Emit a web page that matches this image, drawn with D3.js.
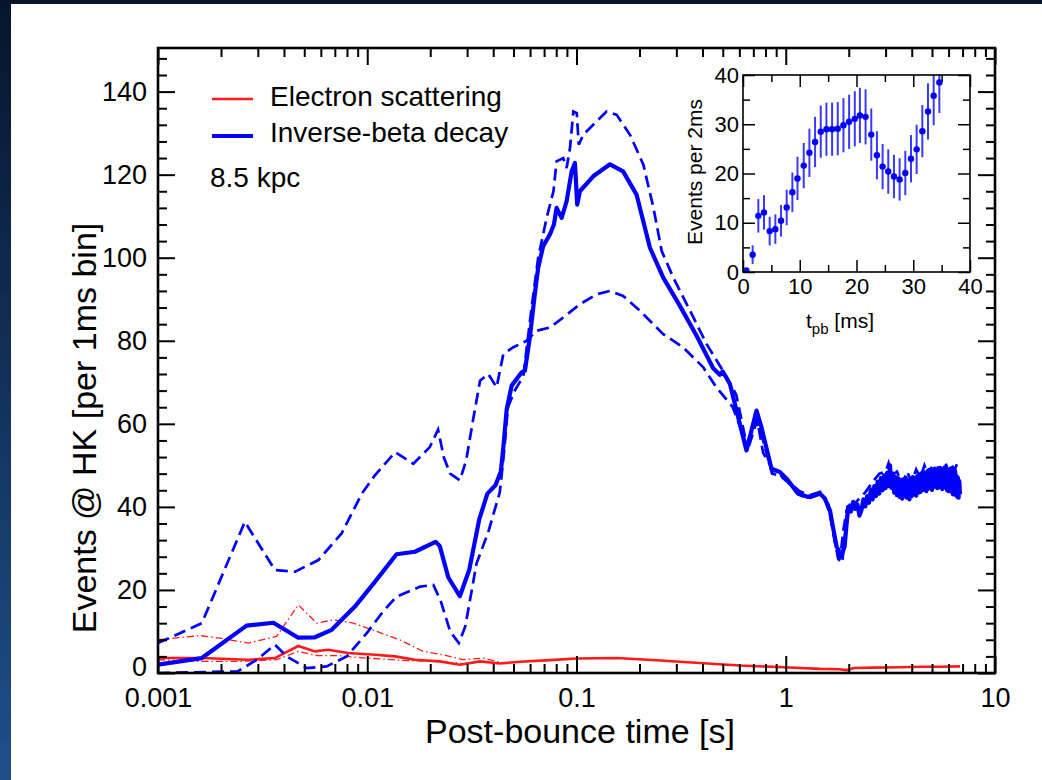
<!DOCTYPE html>
<html>
<head>
<meta charset="utf-8">
<script src="https://cdn.jsdelivr.net/npm/d3@7"></script>
<style>
body { margin: 0; background: #0b2148; }
svg { display: block; font-family: "Liberation Sans", Arial, sans-serif; }
</style>
</head>
<body>
<svg id="chart" width="1042" height="780"></svg>
<script>
// ---- data ----
// inverse-beta decay, solid (reference model)
const ibdT = [0.001,0.00162,0.00265,0.00356,0.00468,0.00562,0.00676,0.00873,0.0109,0.0138,0.0169,0.0212,0.0222,0.0244,0.0277,0.0307,0.0343,0.0375,0.041,0.0435,0.0447,0.0464,0.049,0.0547,0.0567,0.0599,0.0633,0.0656,0.0693,0.0746,0.078,0.0803,0.0849,0.0897,0.0948,0.0983,0.1008,0.1038,0.1202,0.1445,0.167,0.1936,0.2244,0.2597,0.312,0.375,0.45,0.484,0.5,0.541,0.649,0.725,0.765,0.855,0.937,1.009,1.146,1.279,1.455,1.538,1.625,1.75,1.849,1.91,1.986,
  2.05,2.1,2.15,2.2,2.25,2.3,2.35,2.4,2.45];
const ibdV = [2.0,3.6,11.4,12.1,8.5,8.6,10.4,16.0,22.0,28.6,29.2,31.6,30.6,23.0,18.5,24.8,37.0,43.2,45.2,48.5,54.4,63.5,69.2,72.4,72.8,81,91.5,97.6,102.8,105.6,108,112,109.6,113.6,120.8,122.8,112.8,116,119.6,122.5,120.8,115.2,102.4,95.2,88.4,81.2,73.4,71.8,72.6,69.6,53.6,63.2,59.2,49.2,48.4,46.8,43.2,42.4,43.2,42,39.2,30.4,28.4,30.4,40,
  38.9,41.2,39.5,40.6,37.9,39.2,41.8,40.1,42.6];
// late, noisy part of the solid curve
const ibdLateT = [2.5,2.55,2.6,2.65,2.7,2.75,2.8,2.85,2.9,2.95,3.0,3.05,3.1,3.15,3.2,3.25,3.3,3.35,3.4,3.45,3.5,3.55,3.6,3.65,3.7,3.75,3.8,3.85,3.9,3.95,
  4.0,4.05,4.1,4.15,4.2,4.25,4.3,4.35,4.4,4.45,4.5,4.55,4.6,4.65,4.7,4.75,4.8,4.85,4.9,4.95,5.0,5.05,5.1,5.15,5.2,5.25,5.3,5.35,5.4,5.45,
  5.5,5.55,5.6,5.65,5.7,5.75,5.8,5.85,5.9,5.95,6.0,6.05,6.1,6.15,6.2,6.25,6.3,6.35,6.4,6.45,6.5,6.55,6.6,6.65,6.7,6.75,6.8];
const ibdLateV = [41.0,44.2,41.8,45.0,42.6,46.1,43.2,47.0,44.0,47.6,44.5,48.2,45.0,50.0,44.6,48.0,43.4,47.2,42.8,46.9,42.4,46.5,42.0,46.6,42.5,47.0,42.2,46.4,41.8,46.0,
  42.6,47.2,43.0,46.8,42.7,47.4,43.4,47.8,43.6,48.1,44.0,48.4,44.2,48.0,43.8,48.6,44.4,48.9,44.6,48.5,44.1,48.7,44.8,49.2,45.0,48.8,44.5,49.0,45.2,49.4,
  44.7,48.6,44.3,49.1,45.0,49.5,44.6,48.8,44.0,48.4,43.8,48.9,44.2,49.3,43.6,48.2,43.0,47.8,43.4,48.6,42.8,47.4,42.4,47.0,42.2,46.2,43.0];

// inverse-beta decay, dashed variant A (late-rising, peak ~136)
const ibdAT = [0.001,0.0024,0.00297,0.00362,0.00412,0.00513,0.0064,0.00798,0.00995,0.0119,0.0138,0.0179,0.0207,0.0224,0.0249,0.0274,0.0294,0.0333,0.0379,0.043,0.0453,0.047,0.0507,0.0557,0.061,0.0656,0.072,0.0776,0.0803,0.0864,0.0897,0.0931,0.0966,0.1003,0.1025,0.1077,0.1202,0.1392,0.1557,0.1802,0.2087,0.2332,0.2554,0.2903,0.349,0.4188,0.5233,0.58,0.649,0.73,0.78,0.87,0.95,1.03,1.16,1.3,1.46,1.6,1.7,1.78,1.86,1.92,
  2.0,2.2,2.4,2.6,2.8,3.0,3.1,3.2,3.4,3.6,3.8,4.0,4.2,4.4,4.6,4.8,5.0,5.2,5.4,5.6,5.8,6.0,6.2,6.4,6.6,6.8];
const ibdAV = [0,0.4,3.2,6.8,4,1.2,1.6,4,9.6,14.8,18.4,20.8,21.2,17.5,10,7.2,11.2,26.4,34,43.5,54.4,64,68,71.5,88,100,109.6,116,123.2,124,121.6,126.4,135.2,134.8,127.2,129.6,132,135.2,134.4,129.6,122.4,112,101.6,95.2,87.2,79.2,71.2,67,55.2,61,53,48.8,47.5,46.2,43.8,42.8,43.6,40.5,33,27.5,26.5,33,
  39.5,41.5,43.5,46,48,48.5,50.5,47.5,48.5,45.5,48.5,46,49,47,50,47.5,49.8,47.8,50.4,48.2,50.6,48.4,50.2,48.8,50.5,49.6];

// inverse-beta decay, dashed variant B (early-rising, peak ~92)
const ibdBT = [0.001,0.00162,0.0026,0.00362,0.00452,0.00584,0.00754,0.00942,0.01088,0.0136,0.0166,0.0199,0.0218,0.0232,0.0249,0.0277,0.0297,0.032,0.0346,0.0379,0.0415,0.0447,0.0497,0.0578,0.0645,0.0746,0.0864,0.1038,0.1248,0.1445,0.167,0.2012,0.2597,0.3238,0.4036,0.4659,0.5584,0.6225,0.657,0.725,0.77,0.86,0.94,1.02,1.15,1.28,1.45,1.55,1.63,1.74,1.82,1.88,1.95,
  2.02,2.3,2.6,2.9,3.2,3.5,3.8,4.1,4.4,4.7,5.0,5.3,5.6,5.9,6.2,6.5,6.8];
const ibdBV = [7.2,12,36.4,24.8,24.4,27.2,33.6,43.2,47.6,53.2,50.4,54.4,58.6,52,48,46.4,51.2,60.8,70.4,72,68.8,76.8,78.4,80,82.4,83.2,85.6,88.8,91.2,92,90.8,87.2,81.6,78.4,73.6,68.8,64,57.6,53.6,60.5,57,48,47.5,46,43,42,43,41.5,38,30,27.5,34,39,
  40.5,39.5,44,46,48.5,44,46.5,44,46.5,45.5,47.5,45.5,47.5,45.5,47,44.5,43.5];

// electron scattering, solid
const esT = [0.001,0.00162,0.0027,0.00362,0.00468,0.00562,0.0065,0.0081,0.0109,0.0136,0.0169,0.0222,0.0277,0.0346,0.043,0.0537,0.0746,0.1,0.1557,0.2518,0.388,0.6,0.974,1.455,1.8,1.96,2.12,2.6,3.5,4.5,5.5,6.8];
const esV = [3.6,3.6,3.2,3.6,6.5,5.2,5.6,4.8,4.4,4.0,3.2,2.8,2.0,2.8,2.3,2.7,3.1,3.5,3.6,3.0,2.4,1.8,1.4,1.0,0.9,0.7,1.2,1.3,1.4,1.5,1.5,1.6];

// electron scattering, dash-dot variants
const esAT = [0.001,0.00159,0.00198,0.0027,0.00369,0.00468,0.00574,0.00688,0.0086,0.0111,0.0143,0.0185,0.023,0.0286,0.0358,0.043];
const esAV = [8,9,8.4,7.2,8.8,16.4,12,12.8,12,10,8,5.2,4.4,3.2,3.6,2.6];
const esBT = [0.001,0.00159,0.0025,0.00369,0.00468,0.00574,0.0072,0.0098,0.0155,0.0207,0.03];
const esBV = [3.2,2.8,2.8,3.2,5.2,4.2,4.2,3.6,3.0,2.8,2.2];

// inset: events per 2 ms
const insetT = [0.6,1.7,2.7,3.7,4.7,5.7,6.7,7.7,8.7,9.6,10.7,11.7,12.7,13.7,14.7,15.7,16.7,17.7,18.7,19.7,20.6,21.6,22.6,23.6,24.6,25.6,26.6,27.6,28.6,29.6,30.6,31.6,32.6,33.6,34.6];
const insetV = [0.3,3.5,11.4,12.1,8.3,8.7,10.4,13.1,16.2,19.0,21.6,24.2,26.4,28.5,29.0,29.0,29.1,29.8,30.5,31.1,31.8,31.5,27.9,23.7,21.4,20.4,19.4,18.8,20.1,23.0,24.9,28.6,32.6,35.8,38.5];
const insetErr = [0.5,1.9,3.4,3.5,2.9,3.0,3.2,3.6,4.0,4.4,4.6,4.9,5.1,5.3,5.4,5.4,5.4,5.5,5.5,5.6,5.6,5.6,5.3,4.9,4.6,4.5,4.4,4.3,4.5,4.8,5.0,5.3,5.7,6.0,6.2];

const xMajor = [0.001, 0.01, 0.1, 1, 10];
const yMajor = [0, 20, 40, 60, 80, 100, 120, 140];
const insetTicks = [0, 10, 20, 30, 40];

const BLUE = "#0000ff", RED = "#ff1a1a";

// ---- layout ----
const svg = d3.select("#chart");
const W = 1042, H = 780;
const pL = 158, pR = 995, pT = 48, pB = 673;

const bg = svg.append("defs").append("linearGradient")
    .attr("id", "bg").attr("x1", 0).attr("y1", 0).attr("x2", 0).attr("y2", 1);
bg.append("stop").attr("offset", "0%").attr("stop-color", "#07142c");
bg.append("stop").attr("offset", "100%").attr("stop-color", "#1e4f8a");
svg.append("rect").attr("width", W).attr("height", H).attr("fill", "url(#bg)");
svg.append("rect").attr("x", 11).attr("y", 4).attr("width", W - 11).attr("height", H - 4).attr("fill", "#fff");

const x = d3.scaleLog().domain([0.001, 10]).range([pL, pR]);
const y = d3.scaleLinear().domain([0, 150.5]).range([pB, pT]);

const xMinor = x.ticks().filter(v => !xMajor.some(m => Math.abs(m - v) / m < 1e-6));
const yMinor = d3.range(0, 151, 4).filter(v => v % 20 !== 0);

function styleAxis(g) {
  g.select(".domain").remove();
  g.selectAll(".tick line").attr("stroke", "#000").attr("stroke-width", 2);
}

// clip for curves
svg.append("clipPath").attr("id", "plot")
  .append("rect").attr("x", pL).attr("y", pT).attr("width", pR - pL).attr("height", pB - pT);

const line = d3.line().x(d => x(d[0])).y(d => y(d[1]));
const curves = svg.append("g").attr("clip-path", "url(#plot)");

curves.append("path").datum(d3.zip(esBT, esBV)).attr("d", line)
  .attr("fill", "none").attr("stroke", RED).attr("stroke-width", 1.3).attr("stroke-dasharray", "7,3,1.5,3");
curves.append("path").datum(d3.zip(esAT, esAV)).attr("d", line)
  .attr("fill", "none").attr("stroke", RED).attr("stroke-width", 1.3).attr("stroke-dasharray", "7,3,1.5,3");
curves.append("path").datum(d3.zip(esT, esV)).attr("d", line)
  .attr("fill", "none").attr("stroke", RED).attr("stroke-width", 2.6);
curves.append("path").datum(d3.zip(ibdAT, ibdAV)).attr("d", line)
  .attr("fill", "none").attr("stroke", BLUE).attr("stroke-width", 2.7).attr("stroke-dasharray", "12,6");
curves.append("path").datum(d3.zip(ibdBT, ibdBV)).attr("d", line)
  .attr("fill", "none").attr("stroke", BLUE).attr("stroke-width", 2.7).attr("stroke-dasharray", "12,6");
curves.append("path").datum(d3.zip(ibdT.concat(ibdLateT), ibdV.concat(ibdLateV))).attr("d", line)
  .attr("fill", "none").attr("stroke", BLUE).attr("stroke-width", 4.2).attr("stroke-linejoin", "round");

// axes (ticks inside)
svg.append("g").attr("transform", `translate(0,${pB})`)
  .call(d3.axisBottom(x).tickValues(xMajor).tickSize(-17).tickFormat(d3.format("~g")))
  .call(styleAxis)
  .call(g => g.selectAll("text").attr("y", 15).attr("dy", "0.71em").attr("font-size", 27).attr("fill", "#000"));
svg.append("g").attr("transform", `translate(0,${pB})`)
  .call(d3.axisBottom(x).tickValues(xMinor).tickSize(-9).tickFormat("")).call(styleAxis);
svg.append("g").attr("transform", `translate(0,${pT})`)
  .call(d3.axisTop(x).tickValues(xMajor).tickSize(-17).tickFormat("")).call(styleAxis);
svg.append("g").attr("transform", `translate(0,${pT})`)
  .call(d3.axisTop(x).tickValues(xMinor).tickSize(-9).tickFormat("")).call(styleAxis);

svg.append("g").attr("transform", `translate(${pL},0)`)
  .call(d3.axisLeft(y).tickValues(yMajor).tickSize(-17))
  .call(styleAxis)
  .call(g => g.selectAll("text").attr("x", -11).attr("font-size", 27).attr("fill", "#000")
    .filter(d => d === 0).attr("dy", "0.1em"));
svg.append("g").attr("transform", `translate(${pL},0)`)
  .call(d3.axisLeft(y).tickValues(yMinor).tickSize(-9).tickFormat("")).call(styleAxis);
svg.append("g").attr("transform", `translate(${pR},0)`)
  .call(d3.axisRight(y).tickValues(yMajor).tickSize(-17).tickFormat("")).call(styleAxis);
svg.append("g").attr("transform", `translate(${pR},0)`)
  .call(d3.axisRight(y).tickValues(yMinor).tickSize(-9).tickFormat("")).call(styleAxis);

svg.append("rect").attr("x", pL).attr("y", pT).attr("width", pR - pL).attr("height", pB - pT)
  .attr("fill", "none").attr("stroke", "#000").attr("stroke-width", 2.6);

// axis titles
svg.append("text").attr("x", 580).attr("y", 743).attr("text-anchor", "middle")
  .attr("font-size", 34).text("Post-bounce time [s]");
svg.append("text").attr("transform", "translate(96,428) rotate(-90)").attr("text-anchor", "middle")
  .attr("font-size", 34).text("Events @ HK [per 1ms bin]");

// legend
const legend = svg.append("g");
legend.append("line").attr("x1", 212).attr("x2", 253).attr("y1", 99).attr("y2", 99)
  .attr("stroke", RED).attr("stroke-width", 2.6);
legend.append("text").attr("x", 270).attr("y", 106).attr("font-size", 28).text("Electron scattering");
legend.append("line").attr("x1", 212).attr("x2", 253).attr("y1", 136).attr("y2", 136)
  .attr("stroke", BLUE).attr("stroke-width", 4.2);
legend.append("text").attr("x", 270).attr("y", 142).attr("font-size", 28).text("Inverse-beta decay");
legend.append("text").attr("x", 210).attr("y", 187).attr("font-size", 28).text("8.5 kpc");

// ---- inset ----
const iL = 743, iR = 970, iT = 75, iB = 272;
const xi = d3.scaleLinear().domain([0, 40]).range([iL, iR]);
const yi = d3.scaleLinear().domain([0, 40]).range([iB, iT]);
const iMinor = [5, 15, 25, 35];
const inset = svg.append("g");
inset.append("rect").attr("x", iL).attr("y", iT).attr("width", iR - iL).attr("height", iB - iT).attr("fill", "#fff");

function styleInset(g) {
  g.select(".domain").remove();
  g.selectAll(".tick line").attr("stroke", "#000").attr("stroke-width", 1.5);
}
inset.append("g").attr("transform", `translate(0,${iB})`)
  .call(d3.axisBottom(xi).tickValues(insetTicks).tickSize(-12))
  .call(styleInset)
  .call(g => g.selectAll("text").attr("y", 6).attr("font-size", 22).attr("fill", "#000"));
inset.append("g").attr("transform", `translate(0,${iB})`)
  .call(d3.axisBottom(xi).tickValues(iMinor).tickSize(-7).tickFormat("")).call(styleInset);
inset.append("g").attr("transform", `translate(0,${iT})`)
  .call(d3.axisTop(xi).tickValues(insetTicks).tickSize(-12).tickFormat("")).call(styleInset);
inset.append("g").attr("transform", `translate(0,${iT})`)
  .call(d3.axisTop(xi).tickValues(iMinor).tickSize(-7).tickFormat("")).call(styleInset);
inset.append("g").attr("transform", `translate(${iL},0)`)
  .call(d3.axisLeft(yi).tickValues(insetTicks).tickSize(-12))
  .call(styleInset)
  .call(g => g.selectAll("text").attr("x", -4).attr("font-size", 22).attr("fill", "#000"));
inset.append("g").attr("transform", `translate(${iL},0)`)
  .call(d3.axisLeft(yi).tickValues(iMinor).tickSize(-7).tickFormat("")).call(styleInset);
inset.append("g").attr("transform", `translate(${iR},0)`)
  .call(d3.axisRight(yi).tickValues(insetTicks).tickSize(-12).tickFormat("")).call(styleInset);
inset.append("g").attr("transform", `translate(${iR},0)`)
  .call(d3.axisRight(yi).tickValues(iMinor).tickSize(-7).tickFormat("")).call(styleInset);

svg.append("clipPath").attr("id", "insetclip")
  .append("rect").attr("x", iL).attr("y", iT).attr("width", iR - iL).attr("height", iB - iT);
const pts = inset.append("g").attr("clip-path", "url(#insetclip)");
const inData = d3.zip(insetT, insetV, insetErr);
pts.selectAll("line.err").data(inData).join("line").attr("class", "err")
  .attr("x1", d => xi(d[0])).attr("x2", d => xi(d[0]))
  .attr("y1", d => yi(d[1] - d[2])).attr("y2", d => yi(d[1] + d[2]))
  .attr("stroke", "#3a3af5").attr("stroke-width", 2);
pts.selectAll("circle").data(inData).join("circle")
  .attr("cx", d => xi(d[0])).attr("cy", d => yi(d[1])).attr("r", 3.2).attr("fill", BLUE);

inset.append("rect").attr("x", iL).attr("y", iT).attr("width", iR - iL).attr("height", iB - iT)
  .attr("fill", "none").attr("stroke", "#000").attr("stroke-width", 1.6);

inset.append("text").attr("transform", "translate(702,172) rotate(-90)").attr("text-anchor", "middle")
  .attr("font-size", 21).text("Events per 2ms");
const tl = inset.append("text").attr("x", 840).attr("y", 328).attr("text-anchor", "middle").attr("font-size", 21);
tl.append("tspan").text("t");
tl.append("tspan").attr("font-size", 15).attr("dy", 6).text("pb");
tl.append("tspan").attr("dy", -6).text(" [ms]");
</script>
</body>
</html>
